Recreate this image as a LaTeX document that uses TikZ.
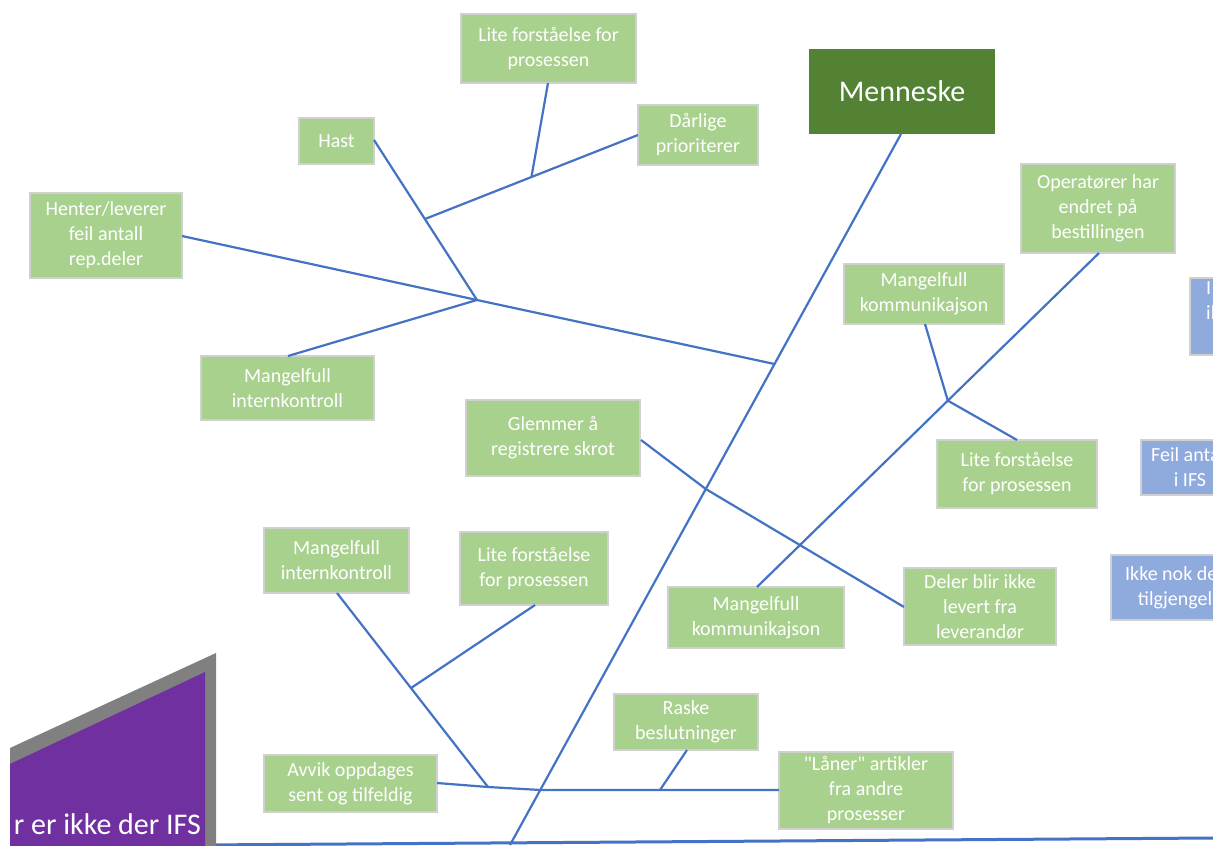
\documentclass[tikz,border=0pt]{standalone}
\usepackage{fontspec}
\setmainfont{Carlito}[Ligatures=TeXOff]
\usetikzlibrary{calc}
\definecolor{leaf}{HTML}{A9D18E}
\definecolor{leafedge}{HTML}{D0D0D0}
\definecolor{headgreen}{HTML}{548235}
\definecolor{bluecard}{HTML}{8FAADC}
\definecolor{bone}{HTML}{4472C4}
\definecolor{headpurple}{HTML}{7030A0}
\definecolor{headrim}{HTML}{808080}
\begin{document}
\begin{tikzpicture}[x=1pt,y=-1pt,
  card/.style={fill=leaf, draw=leafedge, line width=1.5pt, text=white, align=center,
    inner sep=0pt, font=\fontsize{20}{25}\selectfont},
  bluecardbox/.style={card, fill=bluecard},
  headbox/.style={fill=headgreen, text=white, inner sep=0pt, font=\fontsize{30}{36}\selectfont},
  boneline/.style={draw=bone, line width=2.2pt},
  spine/.style={draw=bone, line width=3pt}]
\clip (0,0) rectangle (1213,846);
\fill[white] (0,0) rectangle (1213,846);

% main spine along the bottom edge
\coordinate (sp0) at (200,845);
\coordinate (sp1) at (1213,838);
\draw[spine] (sp0) -- (sp1);

% fish head (purple block with grey rim)
\fill[headrim] (10,748) -- (216,653) -- (216,846) -- (10,846) -- cycle;
\fill[headpurple] (10,764) -- (205,672) -- (205,846) -- (10,846) -- cycle;
\begin{scope}
  \clip (10,764) -- (205,672) -- (205,846) -- (10,846) -- cycle;
  \node[anchor=base east, text=white, inner sep=0pt, font=\fontsize{30}{36}\selectfont] (headtext) at (201,834) {r er ikke der IFS};
\end{scope}

% category and cause cards
\node[headbox, minimum width=186pt, minimum height=85pt] (menn) at (902,91.5) {Menneske};
\node[card, minimum width=175pt, minimum height=69pt] (lite1) at (548.5,48.5) {Lite forståelse for\\prosessen};
\node[card, minimum width=75pt, minimum height=46pt] (hast) at (336.5,141) {Hast};
\node[card, minimum width=120pt, minimum height=60pt] (darl) at (698,135) {Dårlige\\prioriterer};
\node[card, minimum width=152pt, minimum height=85pt] (hent) at (106,235.5) {Henter/leverer\\feil antall\\rep.deler};
\node[card, minimum width=154pt, minimum height=89pt] (oper) at (1098,208.5) {Operatører har\\endret på\\bestillingen};
\node[card, minimum width=160pt, minimum height=60pt] (komm1) at (924,294) {Mangelfull\\kommunikajson};
\node[card, minimum width=173pt, minimum height=64pt] (intk1) at (287.5,388) {Mangelfull\\internkontroll};
\node[card, minimum width=174pt, minimum height=76pt] (glem) at (553,438) {Glemmer å\\registrere skrot};
\node[card, minimum width=160pt, minimum height=68pt] (lite2) at (1017,474) {Lite forståelse\\for prosessen};
\node[card, minimum width=152pt, minimum height=77pt] (dele) at (980,606.5) {Deler blir ikke\\levert fra\\leverandør};
\node[card, minimum width=176pt, minimum height=61pt] (komm2) at (756,617.5) {Mangelfull\\kommunikajson};
\node[card, minimum width=145pt, minimum height=65pt] (intk2) at (336.5,560.5) {Mangelfull\\internkontroll};
\node[card, minimum width=148pt, minimum height=73pt] (lite3) at (534,568.5) {Lite forståelse\\for prosessen};
\node[card, minimum width=144pt, minimum height=56pt] (rask) at (686,722) {Raske\\beslutninger};
\node[card, minimum width=173pt, minimum height=57pt] (avvik) at (350.5,783.5) {Avvik oppdages\\sent og tilfeldig};
\node[card, minimum width=174pt, minimum height=77pt] (laan) at (866,790.5) {"Låner" artikler\\fra andre\\prosesser};

% blue cards at the right edge
\node[bluecardbox, minimum width=90pt, minimum height=77pt] (blue1) at (1235,316.5) {};
\node[anchor=north west, text=white, align=left, inner sep=0pt, font=\fontsize{20}{25}\selectfont] (blue1text) at (1206,281) {I\\il};
\node[bluecardbox, minimum width=98pt, minimum height=55pt] (blue2) at (1190,467.5) {Feil antall\\i IFS};
\node[bluecardbox, minimum width=142pt, minimum height=65pt] (blue3) at (1182,587.5) {Ikke nok deler\\tilgjengelig};

% main bones
\coordinate (b1s) at (901,134);
\coordinate (b1e) at (510,845);
\draw[boneline] (b1s) -- (b1e);
\coordinate (b2s) at (1099,253);
\coordinate (b2e) at (757,587);
\draw[boneline] (b2s) -- (b2e);

% upper-left branch system
\coordinate (jA) at (477,300);
\coordinate (jB) at ($(b1s)!0.3235!(b1e)$);
\coordinate (hentR) at (182,236);
\draw[boneline] (hentR) -- (jA) -- (jB);
\coordinate (hastR) at (374,140);
\draw[boneline] (hastR) -- (jA);
\coordinate (intk1T) at (288,356);
\draw[boneline] (intk1T) -- (jA);
\coordinate (jC) at ($(hastR)!0.494!(jA)$);
\coordinate (darlL) at (638,135);
\draw[boneline] (darlL) -- (jC);
\coordinate (jD) at ($(darlL)!0.5!(jC)$);
\coordinate (lite1B) at (548,83);
\draw[boneline] (lite1B) -- (jD);

% branches on the second bone
\coordinate (jE) at ($(b2s)!0.442!(b2e)$);
\coordinate (komm1B) at (925,324);
\coordinate (lite2T) at (1017,440);
\draw[boneline] (komm1B) -- (jE) -- (lite2T);

% crossing branch from skrot to supplier
\coordinate (glemR) at (641,440);
\coordinate (jF) at ($(b1s)!0.4993!(b1e)$);
\coordinate (deleL) at (904,607);
\draw[boneline] (glemR) -- (jF) -- (deleL);

% lower branch system
\coordinate (intk2B) at (337,593);
\coordinate (jG) at (488,787);
\draw[boneline] (intk2B) -- (jG);
\coordinate (jH) at ($(intk2B)!0.49!(jG)$);
\coordinate (lite3B) at (535,605);
\draw[boneline] (lite3B) -- (jH);
\coordinate (avvikR) at (437,783);
\coordinate (jI) at ($(b1s)!0.9226!(b1e)$);
\coordinate (jJ) at (660,790);
\coordinate (laanL) at (779,790);
\draw[boneline] (avvikR) -- (jG) -- (jI) -- (jJ) -- (laanL);
\coordinate (raskB) at (687,750);
\draw[boneline] (raskB) -- (jJ);
\end{tikzpicture}
\end{document}
